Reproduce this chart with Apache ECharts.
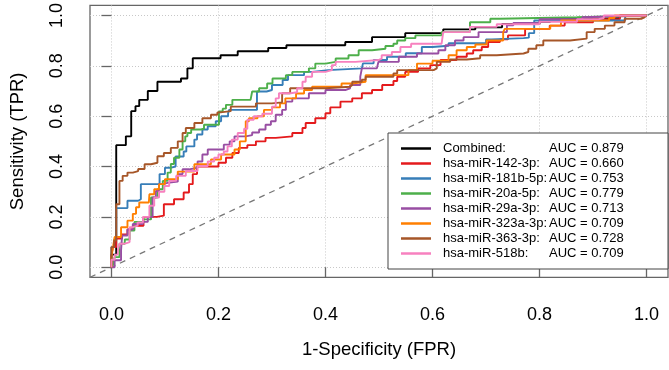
<!DOCTYPE html>
<html>
<head>
<meta charset="utf-8">
<script src="https://cdn.jsdelivr.net/npm/echarts@6/dist/echarts.min.js"></script>
<style>
  html, body { margin: 0; padding: 0; background: #fff; }
  #roc { width: 669px; height: 370px; }
</style>
</head>
<body>
<div id="roc"></div>
<script>
// legend / series names and AUC text
var names = ['Combined:', 'hsa-miR-142-3p:', 'hsa-miR-181b-5p:', 'hsa-miR-20a-5p:',
  'hsa-miR-29a-3p:', 'hsa-miR-323a-3p:', 'hsa-miR-363-3p:', 'hsa-miR-518b:']
var auc = ['0.879', '0.660', '0.753', '0.779', '0.713', '0.709', '0.728', '0.709']
var colors = ['#000000', '#E41A1C', '#377EB8', '#4DAF4A', '#984EA3', '#FF7F00', '#A65628', '#F781BF']
var ticks = [0, 0.2, 0.4, 0.6, 0.8, 1.0]
var diagonal = [[-0.04, -0.04], [1.04, 1.04]]

// [1-specificity, sensitivity]
var combined = [[0,0],[0,0.05],[0.009,0.07],[0.009,0.485],[0.027,0.485],[0.027,0.52],[0.037,0.52],[0.037,0.62],
  [0.045,0.64],[0.052,0.665],[0.068,0.70],[0.086,0.70],[0.086,0.737],[0.124,0.737],[0.13,0.75],[0.142,0.79],
  [0.152,0.83],[0.204,0.83],[0.204,0.842],[0.236,0.842],[0.236,0.858],[0.293,0.871],[0.327,0.882],[0.437,0.895],
  [0.487,0.914],[0.549,0.93],[0.62,0.945],[0.68,0.953],[0.73,0.966],[0.8,0.975],[0.82,0.985],[0.9,0.99],[0.95,1],[1,1]]
var mir142 = [[0,0],[0,0.05],[0.003,0.08],[0.009,0.114],[0.02,0.13],[0.03,0.15],[0.04,0.165],[0.06,0.165],[0.06,0.2],
  [0.085,0.205],[0.098,0.21],[0.098,0.25],[0.117,0.27],[0.135,0.297],[0.145,0.33],[0.152,0.37],[0.16,0.4],[0.2,0.415],
  [0.214,0.435],[0.226,0.454],[0.238,0.474],[0.254,0.485],[0.27,0.5],[0.288,0.514],[0.307,0.52],[0.338,0.533],
  [0.357,0.553],[0.363,0.573],[0.381,0.592],[0.4,0.612],[0.409,0.635],[0.428,0.658],[0.45,0.671],[0.468,0.691],
  [0.487,0.704],[0.506,0.724],[0.527,0.74],[0.534,0.757],[0.549,0.776],[0.573,0.79],[0.596,0.803],[0.615,0.823],
  [0.645,0.836],[0.664,0.849],[0.676,0.862],[0.692,0.875],[0.704,0.895],[0.726,0.905],[0.741,0.921],[0.773,0.947],
  [0.819,0.96],[0.847,0.973],[0.9,0.985],[0.95,1],[1,1]]
var mir181b = [[0,0],[0,0.08],[0.005,0.11],[0.009,0.11],[0.009,0.235],[0.03,0.24],[0.03,0.264],[0.05,0.27],[0.055,0.33],
  [0.09,0.335],[0.09,0.37],[0.1,0.395],[0.11,0.4],[0.12,0.44],[0.135,0.46],[0.14,0.48],[0.155,0.507],[0.16,0.527],
  [0.17,0.547],[0.18,0.56],[0.195,0.58],[0.205,0.6],[0.218,0.612],[0.22,0.625],[0.272,0.63],[0.272,0.698],[0.29,0.704],
  [0.3,0.724],[0.32,0.744],[0.33,0.763],[0.36,0.776],[0.375,0.783],[0.405,0.79],[0.468,0.79],[0.47,0.81],[0.49,0.823],
  [0.515,0.836],[0.55,0.85],[0.58,0.875],[0.6,0.88],[0.63,0.89],[0.7,0.905],[0.71,0.91],[0.77,0.912],[0.78,0.93],
  [0.79,0.98],[0.94,0.98],[0.96,1],[1,1]]
var mir20a = [[0,0],[0.003,0.01],[0.006,0.04],[0.015,0.093],[0.025,0.11],[0.034,0.146],[0.043,0.18],[0.059,0.19],
  [0.074,0.2],[0.074,0.277],[0.086,0.31],[0.096,0.343],[0.105,0.376],[0.111,0.41],[0.117,0.435],[0.127,0.468],
  [0.133,0.5],[0.138,0.52],[0.142,0.533],[0.149,0.547],[0.167,0.55],[0.173,0.566],[0.201,0.57],[0.201,0.619],
  [0.208,0.63],[0.214,0.645],[0.226,0.665],[0.26,0.67],[0.263,0.698],[0.276,0.711],[0.291,0.73],[0.301,0.75],
  [0.326,0.763],[0.338,0.776],[0.369,0.79],[0.381,0.809],[0.4,0.816],[0.419,0.829],[0.443,0.842],[0.462,0.862],
  [0.487,0.868],[0.512,0.879],[0.527,0.888],[0.534,0.901],[0.549,0.91],[0.568,0.921],[0.617,0.934],[0.67,0.973],
  [0.708,0.987],[0.726,0.993],[0.87,0.993],[0.871,1],[1,1]]
var mir29a = [[0,0],[0.006,0.028],[0.018,0.028],[0.018,0.067],[0.02,0.126],[0.03,0.15],[0.04,0.172],[0.059,0.18],
  [0.068,0.2],[0.077,0.277],[0.083,0.303],[0.089,0.33],[0.096,0.335],[0.105,0.34],[0.124,0.37],[0.133,0.389],
  [0.145,0.395],[0.161,0.42],[0.17,0.448],[0.18,0.468],[0.21,0.487],[0.221,0.5],[0.23,0.52],[0.251,0.525],
  [0.263,0.535],[0.276,0.547],[0.288,0.566],[0.298,0.58],[0.307,0.606],[0.319,0.625],[0.326,0.658],[0.338,0.671],
  [0.369,0.691],[0.4,0.704],[0.437,0.711],[0.446,0.724],[0.465,0.757],[0.468,0.79],[0.496,0.796],[0.499,0.816],
  [0.537,0.836],[0.571,0.849],[0.611,0.862],[0.624,0.882],[0.642,0.901],[0.658,0.914],[0.686,0.934],[0.739,0.961],
  [0.751,0.97],[0.8,0.985],[0.88,0.993],[0.881,1],[1,1]]
var mir323a = [[0,0],[0,0.04],[0.003,0.08],[0.006,0.12],[0.018,0.159],[0.03,0.185],[0.04,0.212],[0.046,0.238],
  [0.052,0.257],[0.07,0.26],[0.071,0.29],[0.08,0.31],[0.089,0.33],[0.1,0.35],[0.124,0.38],[0.155,0.409],
  [0.186,0.428],[0.205,0.448],[0.23,0.468],[0.24,0.5],[0.251,0.52],[0.251,0.58],[0.257,0.592],[0.273,0.6],
  [0.285,0.625],[0.3,0.635],[0.315,0.651],[0.325,0.671],[0.345,0.69],[0.36,0.704],[0.375,0.717],[0.43,0.73],
  [0.45,0.737],[0.475,0.763],[0.555,0.783],[0.571,0.809],[0.6,0.82],[0.63,0.842],[0.645,0.862],[0.664,0.875],
  [0.68,0.885],[0.701,0.901],[0.732,0.934],[0.735,0.947],[0.82,0.96],[0.84,0.98],[0.93,0.99],[0.94,1],[1,1]]
var mir363 = [[0,0],[0,0.08],[0.005,0.106],[0.009,0.25],[0.015,0.343],[0.021,0.363],[0.03,0.376],[0.04,0.382],
  [0.05,0.39],[0.062,0.409],[0.074,0.415],[0.086,0.441],[0.098,0.454],[0.111,0.474],[0.124,0.5],[0.133,0.533],
  [0.139,0.553],[0.155,0.573],[0.17,0.592],[0.186,0.606],[0.198,0.615],[0.204,0.62],[0.223,0.638],[0.27,0.638],
  [0.27,0.651],[0.3,0.655],[0.319,0.691],[0.334,0.711],[0.4,0.717],[0.446,0.724],[0.45,0.737],[0.468,0.745],
  [0.475,0.757],[0.527,0.77],[0.534,0.783],[0.602,0.79],[0.608,0.816],[0.633,0.825],[0.664,0.83],[0.689,0.842],
  [0.72,0.849],[0.77,0.855],[0.779,0.868],[0.794,0.882],[0.807,0.901],[0.857,0.908],[0.888,0.934],[0.903,0.947],
  [0.922,0.96],[0.94,0.973],[0.959,0.987],[0.99,0.993],[0.996,1],[1,1]]
var mir518b = [[0,0],[0,0.03],[0.006,0.05],[0.012,0.067],[0.015,0.093],[0.024,0.1],[0.034,0.159],[0.04,0.165],
  [0.049,0.178],[0.059,0.2],[0.071,0.244],[0.08,0.277],[0.089,0.3],[0.099,0.323],[0.108,0.343],[0.121,0.363],
  [0.139,0.382],[0.161,0.402],[0.18,0.42],[0.192,0.435],[0.2,0.448],[0.21,0.46],[0.217,0.48],[0.225,0.507],
  [0.236,0.533],[0.248,0.55],[0.254,0.586],[0.266,0.6],[0.282,0.61],[0.3,0.638],[0.307,0.671],[0.313,0.691],
  [0.335,0.695],[0.347,0.711],[0.357,0.737],[0.363,0.757],[0.375,0.776],[0.4,0.783],[0.412,0.803],[0.419,0.816],
  [0.456,0.823],[0.499,0.829],[0.505,0.842],[0.524,0.855],[0.54,0.875],[0.56,0.888],[0.617,0.895],[0.62,0.934],
  [0.67,0.955],[0.72,0.965],[0.8,0.975],[0.87,0.985],[0.91,0.99],[0.92,1],[1,1]]

var curves = [combined, mir142, mir181b, mir20a, mir29a, mir323a, mir363, mir518b]
var font = 'Liberation Sans, Arial, sans-serif'

var myChart = echarts.init(document.getElementById('roc'))

var series = [{
  // reference diagonal
  type: 'line',
  data: diagonal,
  symbol: 'none',
  silent: true,
  lineStyle: { color: '#777', width: 1.3, type: [6, 5] },
  z: 1
}]
for (var i = 0; i < curves.length; i++) {
  series.push({
    name: names[i],
    type: 'line',
    data: curves[i],
    step: 'end',
    symbol: 'none',
    lineStyle: { color: colors[i], width: 1.9 },
    itemStyle: { color: colors[i] }
  })
}

var option = {
  animation: false,
  backgroundColor: '#fff',
  grid: {
    left: 88, right: 1, top: 3.3, bottom: 92.7,
    show: true, borderColor: '#666', borderWidth: 1.3
  },
  xAxis: {
    type: 'value', min: -0.04, max: 1.04,
    name: '1-Specificity (FPR)', nameLocation: 'middle', nameGap: 63,
    nameTextStyle: { fontSize: 18.5, color: '#000', fontFamily: font },
    axisLine: { show: false },
    axisTick: { show: true, customValues: ticks, length: 10, lineStyle: { color: '#666', width: 1.3 } },
    axisLabel: { customValues: ticks, margin: 29, fontSize: 18, color: '#000', fontFamily: font,
      formatter: function(v) { return v.toFixed(1) } },
    splitLine: { show: true, lineStyle: { color: '#c8c8c8', type: [1, 2], width: 1 } }
  },
  yAxis: {
    type: 'value', min: -0.04, max: 1.04,
    name: 'Sensitivity (TPR)', nameLocation: 'middle', nameGap: 63,
    nameTextStyle: { fontSize: 18.5, color: '#000', fontFamily: font },
    axisLine: { show: false },
    axisTick: { show: true, customValues: ticks, length: 10, lineStyle: { color: '#666', width: 1.3 } },
    axisLabel: { customValues: ticks, margin: 24, rotate: 90, fontSize: 18, color: '#000', fontFamily: font,
      formatter: function(v) { return v.toFixed(1) } },
    splitLine: { show: true, lineStyle: { color: '#c8c8c8', type: [1, 2], width: 1 } }
  },
  legend: {
    orient: 'vertical',
    left: 388, top: 133,
    padding: [9, 8, 9, 13],
    itemWidth: 30, itemHeight: 2.5, itemGap: 2,
    icon: 'rect',
    backgroundColor: '#fff', borderColor: '#444', borderWidth: 1,
    data: names,
    formatter: function(name) {
      return '{n|' + name + '}{a|AUC = ' + auc[names.indexOf(name)] + '}'
    },
    textStyle: {
      fontSize: 13, color: '#000', fontFamily: font,
      rich: {
        n: { fontSize: 13, fontFamily: font, lineHeight: 14, width: 106, padding: [0, 0, 0, 7] },
        a: { fontSize: 13, fontFamily: font, lineHeight: 14, width: 111 }
      }
    }
  },
  series: series
}
myChart.setOption(option)
</script>
</body>
</html>
